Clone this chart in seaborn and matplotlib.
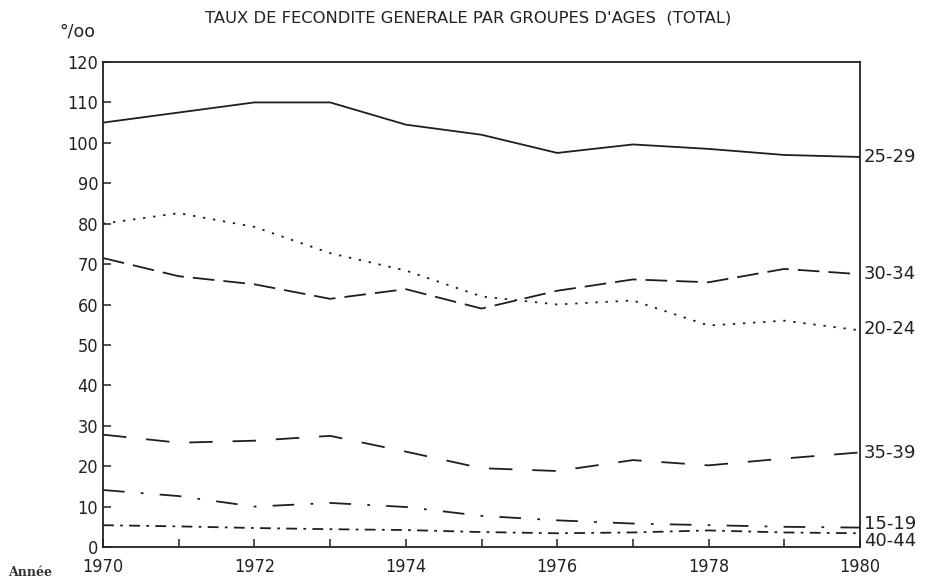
import matplotlib
matplotlib.use("Agg")
import matplotlib.pyplot as plt
import seaborn as sns
import pandas as pd

years = [1970, 1971, 1972, 1973, 1974, 1975, 1976, 1977, 1978, 1979, 1980]
g25_29 = [105, 107.5, 110, 110, 104.5, 102, 97.5, 99.6, 98.5, 97, 96.5]
g20_24 = [80, 82.6, 79.2, 72.7, 68.4, 62, 60, 61, 54.8, 56, 53.6]
g30_34 = [71.5, 67, 65, 61.4, 63.8, 59, 63.4, 66.2, 65.5, 68.8, 67.5]
g35_39 = [27.8, 25.8, 26.3, 27.5, 23.6, 19.5, 18.8, 21.5, 20.2, 21.9, 23.4]
g15_19 = [14.1, 12.6, 10, 10.9, 9.9, 7.7, 6.6, 5.8, 5.4, 5, 4.8]
g40_44 = [5.4, 5.1, 4.7, 4.4, 4.2, 3.7, 3.4, 3.6, 4.1, 3.6, 3.4]
groups = ["25-29", "30-34", "20-24", "35-39", "15-19", "40-44"]
series = [g25_29, g30_34, g20_24, g35_39, g15_19, g40_44]
yticks = [0, 10, 20, 30, 40, 50, 60, 70, 80, 90, 100, 110, 120]
xticks = [1970, 1972, 1974, 1976, 1978, 1980]
title = "TAUX DE FECONDITE GENERALE PAR GROUPES D'AGES  (TOTAL)"

rows = []
for g, vals in zip(groups, series):
    for y, v in zip(years, vals):
        rows.append({"Année": y, "taux": v, "groupe": g})
df = pd.DataFrame(rows)

sns.set_theme(style="white")
plt.rcParams['font.family'] = ['DejaVu Sans']

dashes = {
    "25-29": "",
    "30-34": (12, 5),
    "20-24": (1.3, 4.3),
    "35-39": (13, 11),
    "15-19": (12, 9, 1.5, 9),
    "40-44": (6, 3.5, 1.5, 3.5),
}

fig = plt.figure(figsize=(9.3, 5.87), dpi=100)
ax = fig.add_axes([103/930, 40/587, (860-103)/930, (547-62)/587])
sns.lineplot(data=df, x="Année", y="taux", hue="groupe", style="groupe",
             dashes=dashes, palette=["#1e1e1e"]*6, linewidth=1.3,
             legend=False, ax=ax)

ax.set_xlim(1970, 1980)
ax.set_ylim(0, 120)
ax.set_yticks(yticks)
ax.set_xticks(xticks)
ax.set_xticks(years, minor=True)
ax.tick_params(axis="both", which="both", direction="in", length=6, width=1.1,
               color="#222222", bottom=True, left=True, top=False, right=False)
ax.tick_params(axis="both", which="major", labelsize=13, labelcolor="#222222")
ax.tick_params(axis="x", pad=8)
ax.set_xlabel("")
ax.set_ylabel("")
for s in ax.spines.values():
    s.set_color("#222222")
    s.set_linewidth(1.3)

for lab in ax.get_xticklabels() + ax.get_yticklabels():
    lab.set_fontstretch("condensed")

label_y = {"25-29": 96.5, "30-34": 67.5, "20-24": 54, "35-39": 23.3, "15-19": 5.8, "40-44": 1.4}
for g in groups:
    ax.text(1980.05, label_y[g], g, transform=ax.transData, ha="left", va="center",
            fontsize=13, color="#222222", clip_on=False)

fig.text(468/930, 1 - 18/587, title, ha="center", va="center", fontsize=11.8, color="#222222")
fig.text(77/930, 1 - 32/587, "°/oo", ha="center", va="center", fontsize=12.5, color="#222222")
fig.text(30/930, 1 - 572/587, "Année", ha="center", va="center", fontsize=9,
         family="DejaVu Serif", weight="bold", color="#333333")

fig.savefig("out.png", dpi=100, facecolor="white")
